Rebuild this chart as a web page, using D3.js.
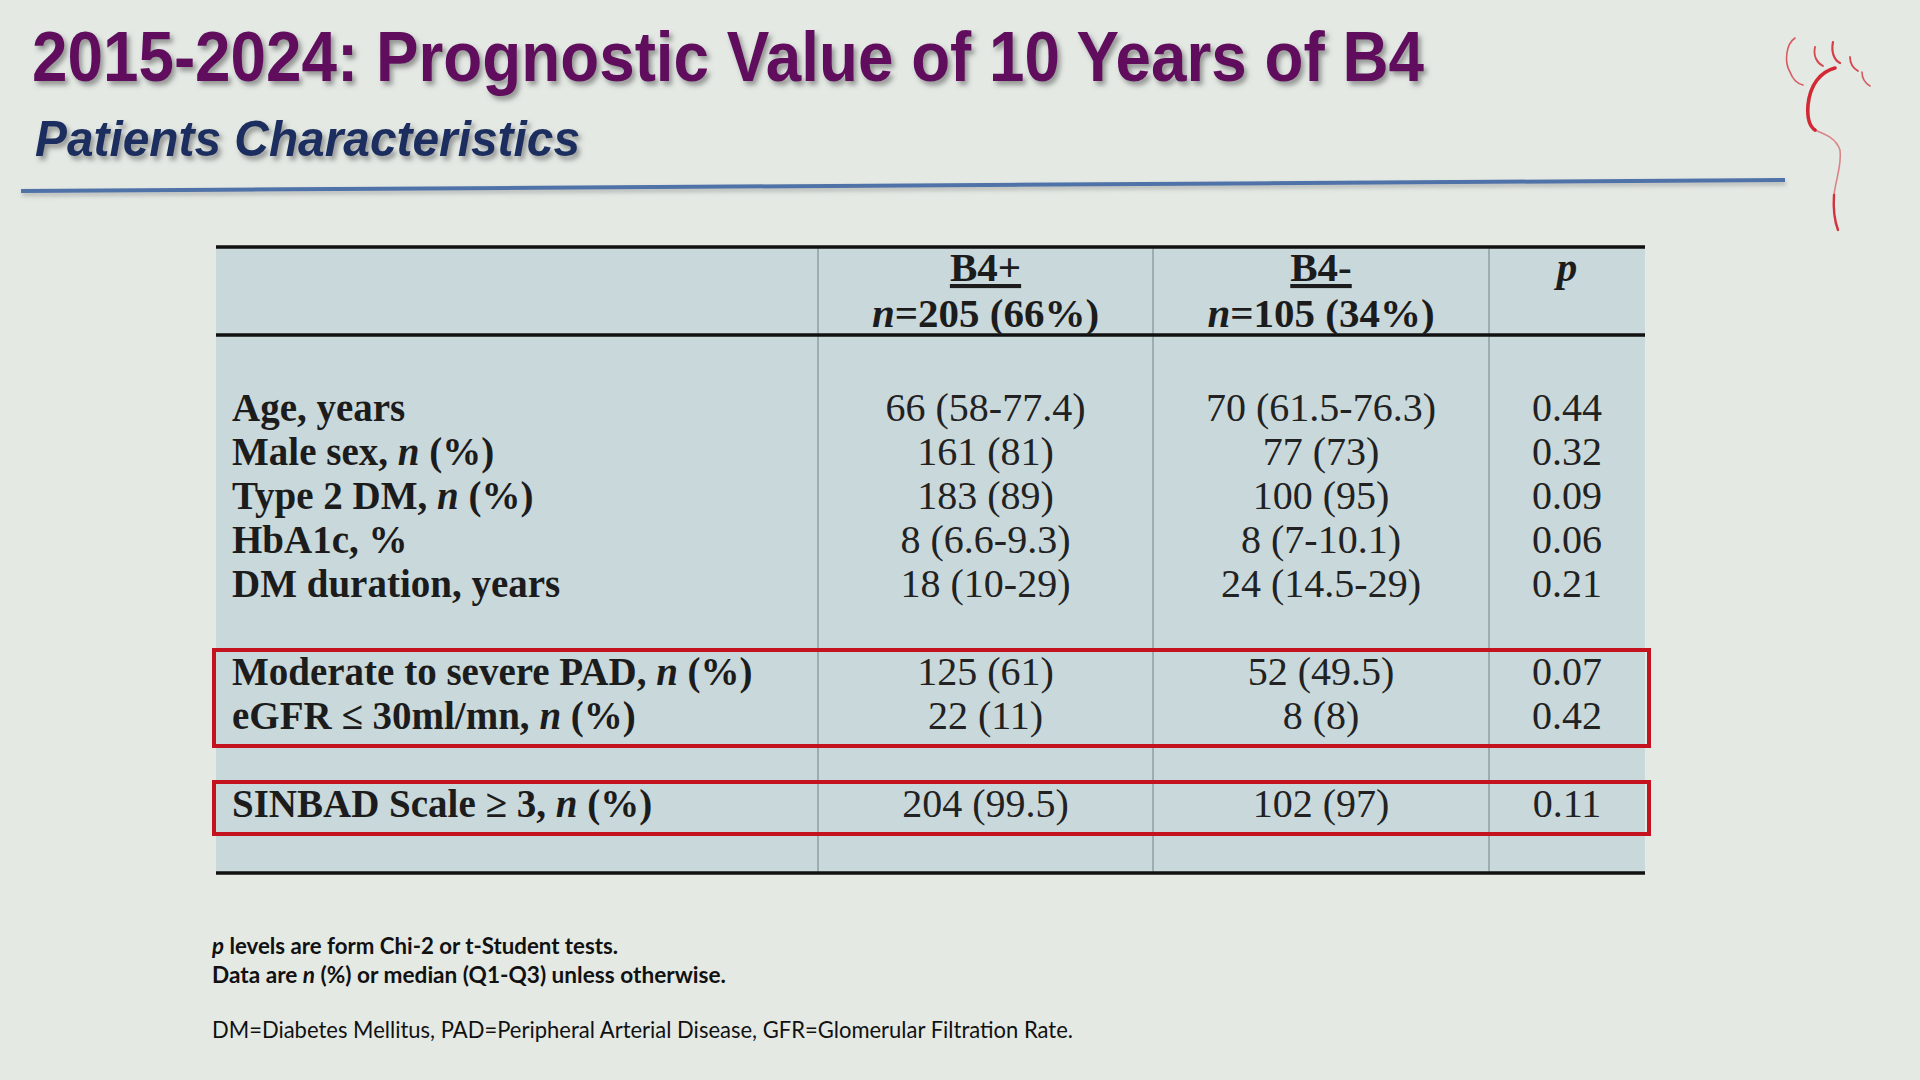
<!DOCTYPE html>
<html><head><meta charset="utf-8">
<script src="https://cdn.jsdelivr.net/npm/d3@7"></script>
<style>html,body{margin:0;padding:0;background:#e4e9e4;overflow:hidden}</style>
</head><body>
<svg id="c" width="1920" height="1080"></svg>
<script>
// ---------------- data ----------------
const titleText = "2015-2024: Prognostic Value of 10 Years of B4";
const subtitleText = "Patients Characteristics";
const rowLabels = [
  "Age, years",
  "Male sex, *n* (%)",
  "Type 2 DM, *n* (%)",
  "HbA1c, %",
  "DM duration, years",
  "Moderate to severe PAD, *n* (%)",
  "eGFR \u2264 30ml/mn, *n* (%)",
  "SINBAD Scale \u2265 3, *n* (%)"
];
const rowGroups = [0, 0, 0, 0, 0, 1, 1, 2];
const b4Pos = ["66 (58-77.4)", "161 (81)", "183 (89)", "8 (6.6-9.3)", "18 (10-29)", "125 (61)", "22 (11)", "204 (99.5)"];
const b4Neg = ["70 (61.5-76.3)", "77 (73)", "100 (95)", "8 (7-10.1)", "24 (14.5-29)", "52 (49.5)", "8 (8)", "102 (97)"];
const pValues = ["0.44", "0.32", "0.09", "0.06", "0.21", "0.07", "0.42", "0.11"];
const columnKeys = ["label", "pos", "neg", "p"];
const columnTitles = ["", "B4+", "B4-", "*p*"];
const columnSubtitles = ["", "*n*=205 (66%)", "*n*=105 (34%)", ""];
const highlightGroups = [1, 2];
const footnotes = [
  "*p* levels are form Chi-2 or t-Student tests.",
  "Data are *n* (%) or median (Q1-Q3) unless otherwise.",
  "",
  "DM=Diabetes Mellitus, PAD=Peripheral Arterial Disease, GFR=Glomerular Filtration Rate."
];
const footnoteBold = [true, true, false, false];

// ---------------- layout ----------------
const svg = d3.select("#c");
const W = 1920, H = 1080;
svg.append("rect").attr("width", W).attr("height", H).attr("fill", "#e4e9e4");

const defs = svg.append("defs");
const sh = defs.append("filter").attr("id", "shadow").attr("x", "-5%").attr("y", "-30%").attr("width", "110%").attr("height", "170%");
sh.append("feDropShadow").attr("dx", 3).attr("dy", 4).attr("stdDeviation", 2.5)
  .attr("flood-color", "#505050").attr("flood-opacity", 0.55);
const sh2 = defs.append("filter").attr("id", "lineshadow").attr("x", "-2%").attr("y", "-300%").attr("width", "104%").attr("height", "700%");
sh2.append("feDropShadow").attr("dx", 1).attr("dy", 3).attr("stdDeviation", 2)
  .attr("flood-color", "#808080").attr("flood-opacity", 0.5);

function rich(sel, str) {
  str.split("*").forEach((seg, i) => {
    if (!seg) return;
    const t = sel.append("tspan").text(seg);
    if (i % 2 === 1) t.attr("font-style", "italic");
  });
}

// Title
svg.append("text").attr("x", 32).attr("y", 81)
  .attr("font-family", "'Liberation Sans', Arial, sans-serif").attr("font-weight", "bold")
  .attr("font-size", 70).attr("fill", "#5e0b5c")
  .attr("textLength", 1392).attr("lengthAdjust", "spacingAndGlyphs")
  .attr("filter", "url(#shadow)").text(titleText);

svg.append("text").attr("x", 35).attr("y", 156)
  .attr("font-family", "'Liberation Sans', Arial, sans-serif").attr("font-weight", "bold")
  .attr("font-style", "italic")
  .attr("font-size", 50).attr("fill", "#1b2f5e")
  .attr("textLength", 545).attr("lengthAdjust", "spacingAndGlyphs")
  .attr("filter", "url(#shadow)").text(subtitleText);

// Rule line
svg.append("line").attr("x1", 21).attr("y1", 191).attr("x2", 1785).attr("y2", 180)
  .attr("stroke", "#4f72a8").attr("stroke-width", 4).attr("filter", "url(#lineshadow)");

// Foot logo
const logo = svg.append("g").attr("fill", "none").attr("stroke", "#d21f2b").attr("stroke-linecap", "round");
[
  ["M1795,38 C1786,44 1784,62 1790,72 C1793,80 1798,84 1803,85", 1.6, 0.7],
  ["M1815,47 C1813,56 1817,63 1823,66", 1.8, 0.8],
  ["M1833,42 C1831,52 1834,60 1840,63", 2.2, 0.85],
  ["M1850,57 C1850,63 1853,68 1858,71", 1.8, 0.8],
  ["M1862,72 C1862,78 1865,83 1870,86", 1.6, 0.7],
  ["M1835,68 C1820,72 1810,85 1808,105 C1807,118 1809,126 1815,130", 3.6, 0.95],
  ["M1815,130 C1825,134 1836,138 1840,150 C1842,165 1836,178 1834,195", 1.6, 0.5],
  ["M1834,195 C1833,210 1835,222 1838,230", 2.4, 0.9]
].forEach(([d, w, o]) => logo.append("path").attr("d", d).attr("stroke-width", w).attr("opacity", o));

// Table geometry
const tableLeft = 216, tableRight = 1645, tableTop = 247, headerBottom = 335, tableBottom = 873;
const colEdges = [tableLeft, 818, 1153, 1489, tableRight];
const colCenter = d3.scaleOrdinal().domain(columnKeys)
  .range(columnKeys.map((k, i) => (colEdges[i] + colEdges[i + 1]) / 2));
const labelX = 232;

const slots = rowLabels.map((d, i) => i + rowGroups[i]);
const y = d3.scaleLinear().domain([0, 1]).range([421, 465]); // baseline per slot

svg.append("rect").attr("x", tableLeft).attr("y", tableTop)
  .attr("width", tableRight - tableLeft).attr("height", tableBottom - tableTop)
  .attr("fill", "#c9d8db");

// vertical column lines
svg.append("g").selectAll("line").data(colEdges.slice(1, 4)).join("line")
  .attr("x1", d => d).attr("x2", d => d).attr("y1", tableTop).attr("y2", tableBottom)
  .attr("stroke", "#9eadb0").attr("stroke-width", 2);

// horizontal rules
svg.append("g").selectAll("line").data([tableTop, headerBottom, tableBottom]).join("line")
  .attr("x1", tableLeft).attr("x2", tableRight).attr("y1", d => d).attr("y2", d => d)
  .attr("stroke", "#111").attr("stroke-width", 3.5);

// header
const serif = "'Liberation Serif', 'Times New Roman', serif";
const hdr = svg.append("g").attr("font-family", serif).attr("font-weight", "bold")
  .attr("font-size", 41).attr("fill", "#1c1c1c").attr("text-anchor", "middle");
columnKeys.forEach((k, i) => {
  if (columnTitles[i]) {
    const t = hdr.append("text").attr("x", colCenter(k)).attr("y", 281);
    rich(t, columnTitles[i]);
    if (k !== "p") t.attr("text-decoration", "underline");
  }
  if (columnSubtitles[i]) {
    const t = hdr.append("text").attr("x", colCenter(k)).attr("y", 327);
    rich(t, columnSubtitles[i]);
  }
});

// body labels
const body = svg.append("g").attr("font-family", serif);
rowLabels.forEach((lab, i) => {
  const t = body.append("text").attr("x", labelX).attr("y", y(slots[i]))
    .attr("font-weight", "bold").attr("font-size", 39).attr("fill", "#1c1c1c");
  rich(t, lab);
});
[["pos", b4Pos], ["neg", b4Neg], ["p", pValues]].forEach(([k, arr]) => {
  body.append("g").selectAll("text").data(arr).join("text")
    .attr("x", colCenter(k)).attr("y", (d, i) => y(slots[i]))
    .attr("text-anchor", "middle").attr("font-size", 40).attr("fill", "#222")
    .text(d => d);
});

// highlight boxes
highlightGroups.forEach(g => {
  const s = slots.filter((d, i) => rowGroups[i] === g);
  const top = y(d3.min(s)) - 35, bot = y(d3.max(s)) + 17;
  svg.append("rect").attr("x", tableLeft - 2).attr("y", top)
    .attr("width", tableRight - tableLeft + 6).attr("height", bot - top)
    .attr("fill", "none").attr("stroke", "#c4121f").attr("stroke-width", 4);
});

// footnotes
const fnY = d3.scaleLinear().domain([0, 1]).range([954, 983]);
const fnLen = [406, 514, 0, 861];
footnotes.forEach((f, i) => {
  if (!f) return;
  const t = svg.append("text").attr("x", 212).attr("y", i === 3 ? 1038 : fnY(i))
    .attr("font-family", "Lato, 'Open Sans', sans-serif")
    .attr("font-weight", footnoteBold[i] ? "bold" : "normal")
    .attr("font-size", 23).attr("fill", "#111")
    .attr("textLength", fnLen[i]).attr("lengthAdjust", "spacingAndGlyphs");
  rich(t, f);
});
</script>
</body></html>
